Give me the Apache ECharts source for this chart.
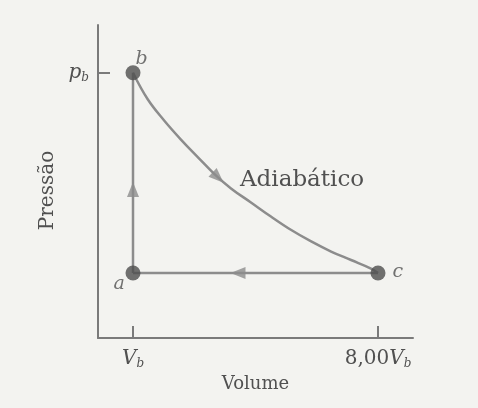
<!DOCTYPE html>
<html>
<head>
<meta charset="utf-8">
<script src="https://cdn.jsdelivr.net/npm/echarts@6/dist/echarts.min.js"></script>
<style>
html,body{margin:0;padding:0;background:#f3f3f0;}
#c{width:478px;height:408px;}
</style>
</head>
<body>
<div id="c"></div>
<script>
// Volume in units of V_b, pressure in units of p_b
var pointNames = ['a', 'b', 'c'];
var pointV = [1, 1, 8];
var pointP = [0.245, 1.0, 0.245];

// adiabatic curve b -> c
var adiabV = [1.0, 1.42, 1.89, 2.37, 2.85, 3.32, 3.80, 4.37, 4.94, 5.51, 6.09, 6.66, 7.23, 7.80, 8.0];
var adiabP = [1.0, 0.900, 0.820, 0.748, 0.682, 0.619, 0.564, 0.511, 0.458, 0.408, 0.364, 0.326, 0.294, 0.262, 0.245];

// direction arrows (position and angle)
var arrowV = [1.0, 3.43, 4.0];
var arrowP = [0.56, 0.605, 0.245];
var arrowRot = [0, -133, 90];

var xTickValues = [1, 8];
var xTickLabels = ['{i|V}{s|b}', '8,00{i|V}{s|b}'];
var yTickValues = [1];
var yTickLabels = ['{i|p}{s|b}'];

var serif = '"DejaVu Serif", "Liberation Serif", serif';
var lineColor = '#8c8c8c';
var axisColor = '#7a7a7a';
var textColor = '#505050';

var chart = echarts.init(document.getElementById('c'));
var rich = {
  i: {fontFamily: serif, fontStyle: 'italic', fontSize: 20, color: textColor},
  s: {fontFamily: serif, fontStyle: 'italic', fontSize: 12, color: textColor, verticalAlign: 'bottom', padding: [11, 0, 0, 0]}
};

chart.setOption({
  backgroundColor: '#f3f3f0',
  animation: false,
  grid: {left: 98, top: 25, right: 65, bottom: 70},
  xAxis: {
    type: 'value', min: 0, max: 9,
    name: 'Volume', nameLocation: 'middle', nameGap: 35,
    nameTextStyle: {fontFamily: serif, fontSize: 18, color: textColor},
    axisLine: {lineStyle: {color: axisColor, width: 2}},
    axisTick: {show: true, inside: true, length: 12, customValues: xTickValues, lineStyle: {color: axisColor, width: 2}},
    axisLabel: {
      customValues: xTickValues, margin: 9,
      fontFamily: serif, fontSize: 20, color: textColor,
      formatter: function (v) { return xTickLabels[xTickValues.indexOf(v)]; },
      rich: rich
    },
    splitLine: {show: false}
  },
  yAxis: {
    type: 'value', min: 0, max: 1.18,
    name: 'Pressão', nameLocation: 'middle', nameGap: 37,
    nameTextStyle: {fontFamily: serif, fontSize: 20, color: textColor, padding: [0, 18, 0, 0]},
    axisLine: {show: true, lineStyle: {color: axisColor, width: 2}},
    axisTick: {show: true, inside: true, length: 12, customValues: yTickValues, lineStyle: {color: axisColor, width: 2}},
    axisLabel: {
      customValues: yTickValues, margin: 9,
      fontFamily: serif, fontSize: 20, color: textColor,
      formatter: function (v) { return yTickLabels[yTickValues.indexOf(v)]; },
      rich: rich
    },
    splitLine: {show: false}
  },
  series: [
    {
      type: 'line', symbol: 'none', smooth: 0.4,
      data: adiabV.map(function (v, i) { return [v, adiabP[i]]; }),
      lineStyle: {color: lineColor, width: 2.5}
    },
    {
      type: 'line', symbol: 'none',
      data: [[pointV[0], pointP[0]], [pointV[1], pointP[1]]],
      lineStyle: {color: lineColor, width: 2.5}
    },
    {
      type: 'line', symbol: 'none',
      data: [[pointV[2], pointP[2]], [pointV[0], pointP[0]]],
      lineStyle: {color: lineColor, width: 2.5}
    },
    {
      type: 'scatter', symbol: 'triangle', symbolSize: [12, 15],
      data: arrowV.map(function (v, i) { return {value: [v, arrowP[i]], symbolRotate: arrowRot[i]}; }),
      itemStyle: {color: lineColor}, z: 4
    },
    {
      type: 'scatter', symbolSize: 15,
      data: pointV.map(function (v, i) {
        var pos = i === 0 ? [-12, 9] : (i === 1 ? [10, -16] : [22, -3]);
        return {value: [v, pointP[i]], name: pointNames[i], label: {position: pos}};
      }),
      itemStyle: {color: '#4d4d4d'},
      label: {show: true, formatter: '{b}', fontFamily: serif, fontStyle: 'italic', fontSize: 19, color: textColor},
      z: 5
    }
  ],
  graphic: [
    {
      type: 'text', left: 240, top: 169,
      style: {text: 'Adiabático', font: '23px ' + serif, fill: textColor}
    }
  ]
});
</script>
</body>
</html>
